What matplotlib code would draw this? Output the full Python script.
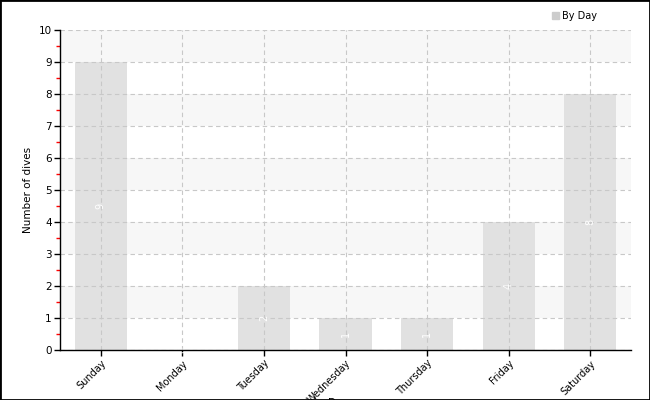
import matplotlib
matplotlib.use("Agg")
import matplotlib.pyplot as plt
from matplotlib.patches import Rectangle, Patch

days = ["Sunday", "Monday", "Tuesday", "Wednesday", "Thursday", "Friday", "Saturday"]
dives = [9, 0, 2, 1, 1, 4, 8]
series_name = "By Day"

plt.rcParams['font.family'] = ['DejaVu Sans']
fig = plt.figure(figsize=(6.5, 4.0), dpi=100)
ax = fig.add_axes([60/650, 50/400, 571/650, 320/400])

ax.set_xlim(-0.5, len(days) - 0.5)
ax.set_ylim(0, 10)

# alternating bands
for y0 in range(1, 10, 2):
    ax.axhspan(y0, y0 + 1, color='#f7f7f7', zorder=0, lw=0)

x = list(range(len(days)))
ax.bar(x, dives, width=0.64, color='#e1e1e1', zorder=1)

for xi, v in zip(x, dives):
    ax.text(xi, v / 2, str(v), color='white', fontsize=7, rotation=90,
            ha='center', va='center', zorder=3)

ax.set_yticks(range(0, 11))
ax.set_yticks([i + 0.5 for i in range(10)], minor=True)
ax.tick_params(axis='y', which='minor', length=3, color='red', width=1)
ax.tick_params(axis='both', which='major', length=4, width=1, labelsize=7.5, pad=2)
ax.tick_params(axis='x', labelsize=7)
ax.set_xticks(x)
ax.set_xticklabels(days, rotation=45, ha='right', rotation_mode='anchor')

ax.grid(True, which='major', color='#c8c8c8', linestyle=(0, (4, 3)), linewidth=0.8, zorder=2)
ax.set_axisbelow(False)
for line in ax.get_xgridlines() + ax.get_ygridlines():
    line.set_zorder(2)

for s in ['top', 'right']:
    ax.spines[s].set_visible(False)
ax.spines['left'].set_linewidth(1)
ax.spines['bottom'].set_linewidth(1)
ax.spines['left'].set_zorder(4)
ax.spines['bottom'].set_zorder(4)

ax.set_ylabel("Number of dives", fontsize=7.5, labelpad=4)
fig.text(338/650, 2/400, "Day", fontsize=7.5, ha='center', va='top')

leg = fig.legend(handles=[Patch(color='#cccccc', label=series_name)],
                 loc='upper left', bbox_to_anchor=(545/650, 1 - 4/400),
                 frameon=False, fontsize=7, handlelength=0.7, handleheight=0.7,
                 handletextpad=0.3, borderpad=0.2)

fig.patches.append(Rectangle((0, 0), 1, 1, transform=fig.transFigure,
                             fill=False, edgecolor='black', linewidth=2))

fig.savefig("out.png", dpi=100)
